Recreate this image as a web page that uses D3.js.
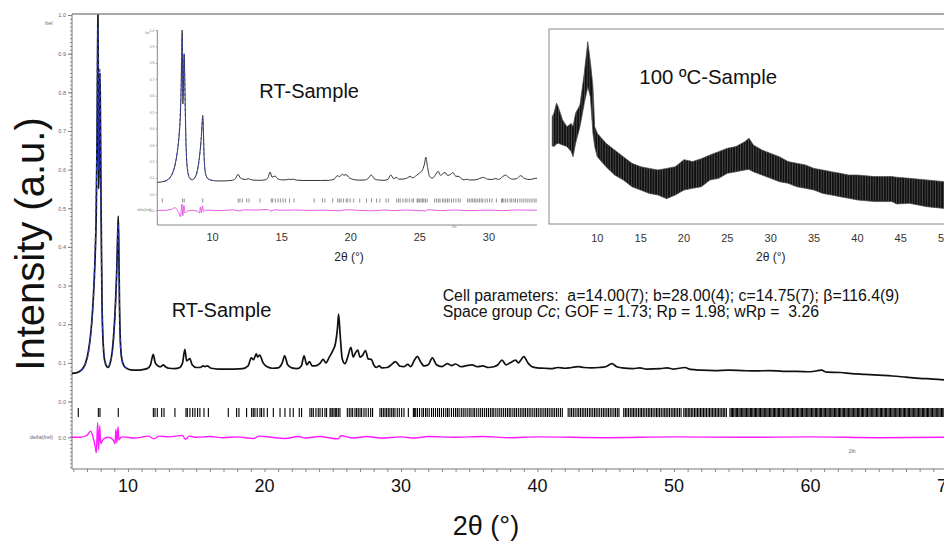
<!DOCTYPE html>
<html><head><meta charset="utf-8">
<script src="https://cdn.jsdelivr.net/npm/d3@7"></script>
<style>
body{margin:0;background:#fff}
svg{display:block}
text{font-family:"Liberation Sans",Arial,sans-serif}
</style></head>
<body><svg id="c" width="944" height="542"></svg>
<script>
// ---------- DATA ----------
// RT sample, observed pattern [2θ, Irel]
const rtObserved = [[5.9,0.073],[6.2,0.074],[6.5,0.079],[6.7,0.086],[6.9,0.1],[7.1,0.13],[7.3,0.185],[7.45,0.26],[7.58,0.36],[7.68,0.5],[7.74,0.7],[7.78,0.92],[7.80,1.0],[7.82,0.9],[7.85,0.55],[7.88,0.6],[7.92,0.8],[7.95,0.85],[7.98,0.75],[8.03,0.5],[8.1,0.25],[8.2,0.14],[8.3,0.105],[8.45,0.09],[8.55,0.088],[8.7,0.1],[8.85,0.13],[8.97,0.18],[9.08,0.25],[9.17,0.33],[9.24,0.42],[9.29,0.48],[9.33,0.4],[9.38,0.25],[9.45,0.15],[9.55,0.11],[9.7,0.093],[9.9,0.086],[10.2,0.082],[10.6,0.081],[11.0,0.082],[11.4,0.085],[11.65,0.095],[11.85,0.122],[12.0,0.1],[12.2,0.092],[12.4,0.09],[12.58,0.095],[12.75,0.09],[13.0,0.086],[13.4,0.085],[13.8,0.088],[14.0,0.1],[14.17,0.135],[14.3,0.105],[14.53,0.111],[14.7,0.095],[15.0,0.088],[15.3,0.088],[15.5,0.092],[15.65,0.09],[15.8,0.092],[16.1,0.086],[16.6,0.084],[17.2,0.084],[17.8,0.084],[18.4,0.085],[18.8,0.092],[19.03,0.113],[19.2,0.108],[19.4,0.123],[19.5,0.115],[19.65,0.12],[19.9,0.1],[20.2,0.09],[20.6,0.086],[21.0,0.087],[21.3,0.1],[21.48,0.118],[21.7,0.095],[22.0,0.087],[22.4,0.085],[22.7,0.092],[22.9,0.118],[23.1,0.095],[23.3,0.103],[23.5,0.092],[23.8,0.093],[24.1,0.1],[24.3,0.109],[24.5,0.1],[24.75,0.115],[25.0,0.131],[25.2,0.15],[25.35,0.19],[25.43,0.226],[25.55,0.17],[25.7,0.11],[25.9,0.098],[26.1,0.115],[26.33,0.14],[26.5,0.115],[26.65,0.125],[26.83,0.133],[27.0,0.115],[27.2,0.12],[27.4,0.132],[27.6,0.11],[27.83,0.109],[28.0,0.095],[28.2,0.088],[28.4,0.092],[28.6,0.087],[29.0,0.088],[29.3,0.095],[29.6,0.103],[29.9,0.092],[30.2,0.09],[30.5,0.096],[30.7,0.09],[31.0,0.108],[31.2,0.117],[31.4,0.105],[31.7,0.092],[32.0,0.095],[32.3,0.113],[32.6,0.095],[33.0,0.09],[33.4,0.098],[33.7,0.093],[34.0,0.097],[34.4,0.09],[34.8,0.093],[35.2,0.095],[35.6,0.09],[36.0,0.092],[36.4,0.088],[36.8,0.09],[37.1,0.095],[37.4,0.107],[37.7,0.095],[38.0,0.1],[38.4,0.107],[38.6,0.1],[38.8,0.108],[39.0,0.116],[39.3,0.1],[39.6,0.09],[40.0,0.087],[40.5,0.086],[41.0,0.085],[41.5,0.088],[42.0,0.086],[42.5,0.088],[43.0,0.09],[43.4,0.088],[44.0,0.087],[44.5,0.088],[45.0,0.09],[45.45,0.098],[45.8,0.09],[46.2,0.087],[47.0,0.085],[47.5,0.087],[48.0,0.084],[49.0,0.085],[49.5,0.087],[50.0,0.084],[50.8,0.088],[51.2,0.083],[52.0,0.081],[53.0,0.08],[54.0,0.081],[55.0,0.08],[56.0,0.079],[57.0,0.08],[58.0,0.078],[59.0,0.078],[60.0,0.077],[60.8,0.081],[61.2,0.076],[62.2,0.075],[63.0,0.072],[64.0,0.07],[65.0,0.068],[66.0,0.066],[67.0,0.063],[68.0,0.06],[69.0,0.058],[70.0,0.055]];
// calculated pattern where it separates from the observed one (strong low-angle peaks)
const rtCalculated = [[6.5,0.078],[6.9,0.098],[7.2,0.15],[7.4,0.23],[7.55,0.34],[7.65,0.48],[7.72,0.66],[7.78,0.95],[7.81,0.97],[7.86,0.6],[7.9,0.78],[7.94,0.86],[7.98,0.7],[8.05,0.4],[8.15,0.18],[8.3,0.11],[8.5,0.09],[8.7,0.1],[8.9,0.14],[9.05,0.22],[9.17,0.33],[9.27,0.46],[9.31,0.44],[9.38,0.24],[9.5,0.12],[9.7,0.093],[10.0,0.085]];
// difference curve [2θ, delta(Irel)]
const rtDelta = [[5.9,0],[6.5,0],[7.02,0.006],[7.27,0.016],[7.46,-0.002],[7.6,-0.024],[7.68,-0.04],[7.78,0.038],[7.85,-0.032],[7.93,0.03],[8.0,-0.016],[8.19,-0.005],[8.56,0],[8.92,-0.007],[9.05,-0.017],[9.12,0.02],[9.19,-0.014],[9.27,0.027],[9.34,-0.007],[9.47,0],[9.6,0.001],[10.5,-0.002],[11.5,0.003],[11.9,-0.004],[12.3,0.003],[13.0,0.001],[14.0,0.005],[14.2,-0.005],[14.5,0.003],[15.0,0],[16.0,0.002],[17.0,-0.001],[18.0,0.001],[19.2,-0.003],[19.6,0.003],[20.5,0],[21.5,-0.003],[22.5,0.002],[23.0,-0.002],[24.0,0.002],[25.4,-0.004],[25.6,0.004],[26.5,-0.002],[27.5,0.002],[28.5,-0.002],[30.0,0.001],[31.0,-0.002],[32.0,0.002],[34.0,0],[36.0,0.002],[38.0,-0.001],[40.0,0.001],[45.0,-0.001],[50.0,0.001],[55.0,0],[60.0,0.001],[65.0,-0.001],[70.0,0]];
// Bragg reflection positions (2θ)
const reflections = [6.36,7.83,7.95,9.29,11.86,11.98,12.15,12.47,12.64,13.44,14.25,14.35,14.54,14.74,14.91,15.10,15.27,15.57,15.89,17.35,17.96,18.13,18.69,19.06,19.18,19.30,19.47,19.67,19.79,19.96,20.21,20.65,21.14,21.50,21.87,22.11,22.55,22.72,23.33,23.46,23.58,23.77,23.94,24.07,24.24,24.43,24.55,24.80,24.87,24.97,25.09,25.19,25.29,25.41,25.53,26.07,26.21,26.34,26.46,26.63,26.75,26.87,27.00,27.12,27.29,27.44,27.61,27.78,27.92,28.46,28.58,28.71,28.83,28.95,29.07,29.19,29.32,29.44,29.56,29.73,29.88,30.05,30.22,30.54,
30.91,30.98,31.08,31.21,31.36,31.53,31.65,31.8,31.92,32.07,32.24,32.38,32.53,32.68,32.82,32.97,33.12,33.28,33.41,33.53,33.7,33.85,34.0,34.13,34.26,34.42,34.56,34.7,34.85,35.0,35.13,35.28,35.4,35.55,35.7,35.84,35.98,36.13,36.27,36.41,36.55,36.68,36.8,36.95,37.1,37.24,37.38,37.52,37.66,
37.8,37.93,38.05,38.2,38.33,38.46,38.6,38.74,38.87,39.0,39.12,39.26,39.39,39.52,39.66,39.8,39.93,40.06,40.2,40.33,40.47,40.6,40.73,40.86,41.0,41.13,41.26,41.4,41.53,41.68,41.82,
42.25,42.38,42.5,42.63,42.76,42.9,43.02,43.15,43.28,43.4,43.53,43.66,43.8,43.92,44.05,44.18,44.3,44.43,44.56,44.7,44.83,44.95,45.08,45.2,45.33,45.46,45.6,45.72,45.85,45.97,
46.32,46.44,46.55,46.67,46.8,46.92,47.03,47.15,47.27,47.4,47.52,47.63,47.75,47.87,48.0,48.12,48.23,48.35,48.47,48.6,48.72,48.83,48.95,49.07,49.2,49.32,49.43,49.55,49.67,49.8,49.92,50.03,50.15,50.27,50.4,50.52,
50.72,50.83,50.94,51.05,51.16,51.27,51.38,51.5,51.61,51.72,51.83,51.94,52.05,52.16,52.27,52.38,52.5,52.61,52.72,52.83,52.94,53.05,53.16,53.27,53.38,53.5,53.61,53.72,53.84,
54.1,54.2,54.29,54.38,54.48,54.57,54.66,54.76,54.85,54.94,55.04,55.13,55.22,55.32,55.41,55.5,55.6,55.69,55.78,55.88,55.97,56.06,56.16,56.25,56.34,56.44,56.53,56.62,56.72,56.81,56.9,57.0,57.09,57.18,57.28,57.37,57.46,57.56,57.65,57.74,57.84,57.93,58.02,58.12,58.21,58.3,58.4,58.49,58.58,58.68,58.77,58.86,58.96,59.05,59.14,59.24,59.33,59.42,59.52,59.61,59.7,59.8,59.89,59.98,60.08,60.17,60.26,60.36,60.45,60.54,60.64,60.73,60.82,60.92,61.01,61.1,61.2,61.29,61.38,61.48,61.57,61.66,61.76,61.85,61.94,62.04,62.13,62.22,62.32,62.41,62.5,62.6,62.69,62.78,62.88,62.97,63.06,63.16,63.25,63.34,63.44,63.53,63.62,63.72,63.81,63.9,64.0,64.09,64.18,64.28,64.37,64.46,64.56,64.65,64.74,64.84,64.93,65.02,65.12,65.21,65.3,65.4,65.49,65.58,65.68,65.77,65.86,65.96,66.05,66.14,66.24,66.33,66.42,66.52,66.61,66.7,66.8,66.89,66.98,67.08,67.17,67.26,67.36,67.45,67.54,67.64,67.73,67.82,67.92,68.01,68.1,68.2,68.29,68.38,68.48,68.57,68.66,68.76,68.85,68.94,69.04,69.13,69.22,69.32,69.41,69.5,69.6,69.69,69.78,69.88,69.97];
// 100 ºC sample: noise envelope [2θ, low, high] (a.u.)
const hotTheta = [4.8,5.0,5.3,5.5,6.0,6.5,7.0,7.2,7.5,8.0,8.5,8.9,9.2,9.5,9.7,10,11,12,13,14,15,16,17,18,19,20,21,22,23,24,25,26,27,27.5,28,29,30,31,32,33,34,35,36,37,38,39,40,42,44,44.5,46,48,50,52];
const hotLow  = [40,39.7,41,41.4,40.5,39.7,37.1,34.5,41.4,49.9,61.9,70.4,65.3,46.5,39.7,34.5,29.4,25.1,22.6,19.1,17.4,15.7,14.9,13,14.9,17.4,18.3,19.1,22.6,23.4,26.0,26.8,27.7,28,26.8,25.1,23.4,21.7,20.9,19.1,18.3,17.4,15.7,14.9,14.0,13.2,12.3,11.5,11.5,10.3,10.6,8.9,8.0,7.5];
const hotHigh = [55,56.8,62,60,53.3,49.9,51.6,50,56.8,61.0,77.3,93.5,83.2,70.4,49.9,46.5,41.4,37.9,34.5,31.1,29.4,28.5,27.7,28.5,29.4,33,32.0,33.5,35.4,37.1,38.8,39.7,42.2,44,40.5,37.9,36.2,34.5,32.0,31.1,30.3,28.5,27.7,26.8,26.0,25.1,25.1,24.3,24.3,24,23.4,22.6,21.7,21.0];
// tick labels
const mainXTicks = [10,20,30,40,50,60,70];
const mainYTicks = [0,0.1,0.2,0.3,0.4,0.5,0.6,0.7,0.8,0.9,1.0];
const rtInsetXTicks = [10,15,20,25,30];
const hotXTicks = [10,15,20,25,30,35,40,45,50];

// ---------- DRAWING ----------
const svg = d3.select("#c");
const f1 = d3.format(".1f");
const obsCol = "#111", calcCol = "#2b3bc4", diffCol = "#ff1aff";

// texture used for the noisy 100 ºC band
const defs = svg.append("defs");
const pat = defs.append("pattern").attr("id","noise").attr("patternUnits","userSpaceOnUse").attr("width",2.6).attr("height",7);
pat.append("rect").attr("width",2.6).attr("height",7).attr("fill","#111");
pat.append("rect").attr("x",1.9).attr("width",0.5).attr("height",7).attr("fill","#777");

// main scales
const x = d3.scaleLinear().domain([5.9,70]).range([72, 72+64.1*13.65]);
const y = d3.scaleLinear().domain([0,1]).range([401.5,15]);
const yd = d3.scaleLinear().domain([0,1]).range([437.3,437.3-386.5]);

// frame
svg.append("line").attr("x1",72).attr("x2",944).attr("y1",14).attr("y2",14).attr("stroke","#555").attr("stroke-width",1);
svg.append("line").attr("x1",72).attr("x2",72).attr("y1",14).attr("y2",469).attr("stroke","#777").attr("stroke-width",1);
svg.append("line").attr("x1",72).attr("x2",944).attr("y1",469).attr("y2",469).attr("stroke","#777").attr("stroke-width",1);

function styleAxis(g,col){ g.select(".domain").remove(); g.selectAll("line").attr("stroke",col||"#777"); }
// y axis
const gy = svg.append("g").attr("transform","translate(72,0)")
  .call(d3.axisLeft(y).tickValues(mainYTicks).tickSize(4).tickPadding(2).tickFormat(f1));
styleAxis(gy); gy.selectAll("text").attr("font-size",5.5).attr("fill","#666").attr("font-family","Liberation Sans");
const gym = svg.append("g").attr("transform","translate(72,0)")
  .call(d3.axisLeft(y).tickValues(d3.range(-17,101).map(i=>i/100)).tickSize(2).tickFormat(""));
styleAxis(gym,"#888");
const gyd = svg.append("g").attr("transform","translate(72,0)")
  .call(d3.axisLeft(yd).tickValues([0]).tickSize(4).tickPadding(2).tickFormat(f1));
styleAxis(gyd); gyd.selectAll("text").attr("font-size",5.5).attr("fill","#666").attr("font-family","Liberation Sans");
svg.append("text").attr("x",53).attr("y",439).attr("text-anchor","end").attr("font-size",5.5).attr("fill","#666").text("delta(Irel)");
svg.append("text").attr("x",45).attr("y",25).attr("font-size",5.5).attr("fill","#666").text("Irel");

// x axis
const gx = svg.append("g").attr("transform","translate(0,469)")
  .call(d3.axisBottom(x).tickValues(d3.range(6,71)).tickSize(3).tickFormat(""));
styleAxis(gx,"#888");
svg.selectAll("text.xl").data(mainXTicks).join("text").attr("class","xl")
  .attr("x",d=>x(d)).attr("y",491.5).attr("text-anchor","middle").attr("font-size",18).attr("fill","#111").text(d=>d);
svg.append("text").attr("x",x(62.8)).attr("y",453).attr("font-size",5).attr("fill","#666").text("2th");
svg.append("text").attr("x",486).attr("y",535).attr("text-anchor","middle").attr("font-size",27).attr("fill","#111").text("2θ (°)");
svg.append("text").attr("transform","translate(44,244) rotate(-90)").attr("text-anchor","middle").attr("font-size",40).attr("fill","#111").text("Intensity (a.u.)");

// main curves
const lineObs = d3.line().x(d=>x(d[0])).y(d=>y(d[1])).curve(d3.curveMonotoneX);
const lineDelta = d3.line().x(d=>x(d[0])).y(d=>yd(d[1])).curve(d3.curveMonotoneX);
svg.append("path").datum(rtDelta).attr("d",lineDelta).attr("fill","none").attr("stroke",diffCol).attr("stroke-width",1.4);
svg.append("g").selectAll("line").data(reflections).join("line")
  .attr("x1",d=>x(d)).attr("x2",d=>x(d)).attr("y1",408).attr("y2",417).attr("stroke","#000").attr("stroke-width",1.1);
svg.append("path").datum(rtObserved).attr("d",lineObs).attr("fill","none").attr("stroke",obsCol).attr("stroke-width",1.7);
svg.append("path").datum(rtCalculated).attr("d",lineObs).attr("fill","none").attr("stroke",calcCol).attr("stroke-width",1.2).attr("stroke-dasharray","4,3");

svg.append("text").attr("x",171.7).attr("y",317).attr("font-size",20).attr("fill","#111").text("RT-Sample");
svg.append("text").attr("x",442.7).attr("y",300.7).attr("font-size",15.8).attr("fill","#111").style("white-space","pre")
  .text("Cell parameters:  a=14.00(7); b=28.00(4); c=14.75(7); β=116.4(9)");
const t2 = svg.append("text").attr("x",442.7).attr("y",317.3).attr("font-size",15.8).attr("fill","#111").style("white-space","pre");
t2.append("tspan").text("Space group ");
t2.append("tspan").attr("font-style","italic").text("Cc");
t2.append("tspan").text("; GOF = 1.73; Rp = 1.98; wRp =  3.26");

// ---------- INSET 1: RT sample ----------
const x1 = d3.scaleLinear().domain([6.0,33.48]).range([157.3,537]);
const y1 = d3.scaleLinear().domain([0,1]).range([194.3,30]);
const yd1 = d3.scaleLinear().domain([0,1]).range([210.3,210.3-164.3]);
const in1 = svg.append("g");
defs.append("clipPath").attr("id","clip1").append("rect").attr("x",157.3).attr("y",20).attr("width",379.7).attr("height",205);
in1.append("line").attr("x1",157.3).attr("x2",157.3).attr("y1",30).attr("y2",225).attr("stroke","#888");
in1.append("line").attr("x1",157.3).attr("x2",537).attr("y1",225).attr("y2",225).attr("stroke","#888");
const gy1 = in1.append("g").attr("transform","translate(157.3,0)")
  .call(d3.axisLeft(y1).tickValues(mainYTicks).tickSize(1.5).tickPadding(1.5).tickFormat(f1));
styleAxis(gy1,"#999"); gy1.selectAll("text").attr("font-size",3.2).attr("fill","#777").attr("font-family","Liberation Sans");
const gyd1 = in1.append("g").attr("transform","translate(157.3,0)")
  .call(d3.axisLeft(yd1).tickValues([0]).tickSize(1.5).tickPadding(1.5).tickFormat(f1));
styleAxis(gyd1,"#999"); gyd1.selectAll("text").attr("font-size",3.2).attr("fill","#777").attr("font-family","Liberation Sans");
in1.append("text").attr("x",151).attr("y",211.3).attr("text-anchor","end").attr("font-size",3.2).attr("fill","#777").text("delta(Irel)");
in1.append("text").attr("x",145).attr("y",34).attr("font-size",3.2).attr("fill","#777").text("Irel");
in1.append("text").attr("x",452).attr("y",228).attr("font-size",3.2).attr("fill","#777").text("2th");
in1.selectAll("text.x1l").data(rtInsetXTicks).join("text").attr("class","x1l")
  .attr("x",d=>x1(d)).attr("y",240.5).attr("text-anchor","middle").attr("font-size",11).attr("fill","#333").text(d=>d);
in1.append("text").attr("x",349).attr("y",261).attr("text-anchor","middle").attr("font-size",12).attr("fill","#222").text("2θ (°)");
const c1 = in1.append("g").attr("clip-path","url(#clip1)");
c1.append("path").datum(rtDelta).attr("d",d3.line().x(d=>x1(d[0])).y(d=>yd1(d[1])).curve(d3.curveMonotoneX))
  .attr("fill","none").attr("stroke","#e45ce4").attr("stroke-width",1);
c1.selectAll("line.r1").data(reflections.filter(d=>d<33.48)).join("line").attr("class","r1")
  .attr("x1",d=>x1(d)).attr("x2",d=>x1(d)).attr("y1",198.5).attr("y2",202.5).attr("stroke","#444").attr("stroke-width",0.6);
const l1 = d3.line().x(d=>x1(d[0])).y(d=>y1(d[1])).curve(d3.curveMonotoneX);
c1.append("path").datum(rtObserved).attr("d",l1).attr("fill","none").attr("stroke","#333").attr("stroke-width",1);
c1.append("path").datum(rtCalculated).attr("d",l1).attr("fill","none").attr("stroke",calcCol).attr("stroke-width",0.8).attr("stroke-dasharray","3,2");
in1.append("text").attr("x",259.3).attr("y",98.3).attr("font-size",20).attr("fill","#111").text("RT-Sample");

// ---------- INSET 2: 100 ºC sample ----------
const x2 = d3.scaleLinear().domain([4.43,54]).range([549,549+49.57*8.67]);
const y2 = d3.scaleLinear().domain([0,100]).range([224,29]);
const in2 = svg.append("g");
in2.append("rect").attr("x",549).attr("y",29).attr("width",420).attr("height",195).attr("fill","#fff").attr("stroke","#888").attr("stroke-width",1);
const hot = hotTheta.map((t,i)=>({t, lo:hotLow[i], hi:hotHigh[i]}));
in2.append("path").datum(hot)
  .attr("d",d3.area().x(d=>x2(d.t)).y0(d=>y2(d.lo)).y1(d=>y2(d.hi)).curve(d3.curveLinear))
  .attr("fill","url(#noise)").attr("stroke","#444").attr("stroke-width",0.7);
in2.selectAll("text.x2l").data(hotXTicks).join("text").attr("class","x2l")
  .attr("x",d=>x2(d)).attr("y",242).attr("text-anchor","middle").attr("font-size",11).attr("fill","#333").text(d=>d);
in2.append("text").attr("x",770.7).attr("y",261).attr("text-anchor","middle").attr("font-size",12).attr("fill","#222").text("2θ (°)");
in2.append("text").attr("x",639.3).attr("y",84).attr("font-size",20.4).attr("fill","#111").text("100 ºC-Sample");
</script>
</body></html>
